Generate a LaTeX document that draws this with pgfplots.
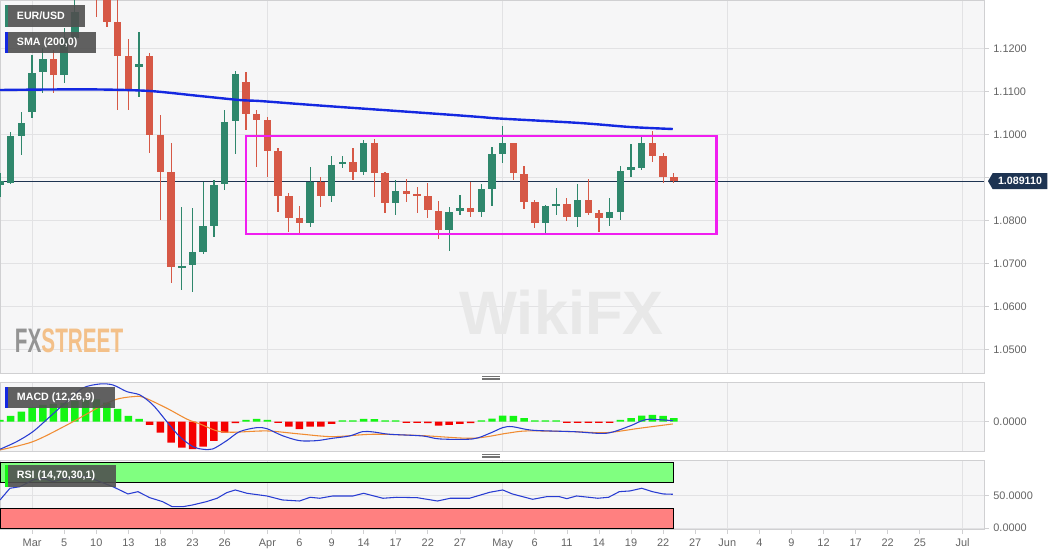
\documentclass[border=0pt]{standalone}
\usepackage{fontspec}
\setmainfont{Liberation Sans}
\usepackage{graphicx}
\usepackage{pgfplots}
\usepackage{pgfplotstable}
\pgfplotsset{compat=1.18}

\definecolor{plotbg}{RGB}{246,246,247}
\definecolor{gridgray}{RGB}{226,226,228}
\definecolor{framegray}{RGB}{208,208,210}
\definecolor{cgreen}{RGB}{47,135,108}
\definecolor{cred}{RGB}{214,88,70}
\definecolor{smablue}{RGB}{20,40,225}
\definecolor{pricenavy}{RGB}{30,52,82}
\definecolor{boxmag}{RGB}{240,30,240}
\definecolor{hgreen}{RGB}{20,245,20}
\definecolor{hred}{RGB}{245,0,0}
\definecolor{macdblue}{RGB}{40,60,210}
\definecolor{sigorange}{RGB}{240,140,50}
\definecolor{rsigreen}{RGB}{128,255,128}
\definecolor{rsired}{RGB}{255,128,128}
\definecolor{ticktext}{RGB}{100,100,100}
\definecolor{legbox}{RGB}{80,80,80}

% daily candles, i = bar index
\pgfplotstableread{
i o h l c
0 1.08821 1.09100 1.08542 1.08914
1 1.08867 1.10053 1.08844 1.09960
2 1.09960 1.10518 1.09518 1.10263
3 1.10518 1.11844 1.10379 1.11425
4 1.11449 1.12007 1.10960 1.11751
6 1.11379 1.12472 1.11193 1.12239
7 1.12239 1.13356 1.12193 1.12844
8 1.13850 1.14960 1.13300 1.14500
13 1.11565 1.12379 1.10867 1.11635
17 1.06914 1.08309 1.06379 1.06937
18 1.06960 1.08286 1.06333 1.07263
19 1.07263 1.08891 1.07216 1.07867
20 1.07867 1.08937 1.07612 1.08821
21 1.08844 1.10565 1.08704 1.10286
22 1.10309 1.11472 1.09542 1.11402
29 1.07937 1.09239 1.07844 1.08891
31 1.08565 1.09495 1.08425 1.09286
32 1.09309 1.09495 1.09216 1.09356
34 1.09123 1.09867 1.09053 1.09797
37 1.08402 1.08937 1.08123 1.08681
42 1.07774 1.08309 1.07286 1.08193
43 1.08216 1.08588 1.08123 1.08286
45 1.08193 1.08844 1.08077 1.08728
46 1.08728 1.09704 1.08332 1.09542
47 1.09542 1.10193 1.09332 1.09797
51 1.07937 1.08356 1.07705 1.08332
52 1.08332 1.08751 1.08123 1.08379
54 1.08077 1.08844 1.07844 1.08472
57 1.08053 1.08518 1.07867 1.08193
58 1.08193 1.09263 1.08007 1.09146
59 1.09170 1.09774 1.09007 1.09239
60 1.09216 1.09983 1.09170 1.09797
}\upc

\pgfplotstableread{
i o h l c
5 1.11751 1.11960 1.10960 1.11379
9 1.14500 1.14600 1.12735 1.13350
10 1.13216 1.13309 1.12502 1.12618
11 1.12611 1.13170 1.10565 1.11821
12 1.11821 1.12216 1.10565 1.11030
14 1.11821 1.11890 1.09565 1.09983
15 1.09983 1.10449 1.08007 1.09123
16 1.09123 1.09797 1.06542 1.06914
23 1.11216 1.11449 1.10100 1.10472
24 1.10472 1.10565 1.09239 1.10332
25 1.10332 1.10402 1.09007 1.09611
26 1.09611 1.09681 1.08193 1.08565
27 1.08565 1.08635 1.07728 1.08053
28 1.08053 1.08332 1.07705 1.07937
30 1.08891 1.09007 1.08309 1.08565
33 1.09356 1.09681 1.08937 1.09123
35 1.09797 1.09890 1.08542 1.09100
36 1.09100 1.09123 1.08170 1.08402
38 1.08681 1.08960 1.08425 1.08611
39 1.08611 1.08774 1.08170 1.08565
40 1.08565 1.08867 1.08053 1.08239
41 1.08216 1.08449 1.07565 1.07774
44 1.08286 1.08891 1.08077 1.08193
48 1.09797 1.09797 1.08937 1.09100
49 1.09077 1.09263 1.08263 1.08425
50 1.08425 1.08472 1.07821 1.07937
53 1.08379 1.08518 1.07983 1.08077
55 1.08472 1.08960 1.08123 1.08170
56 1.08170 1.08239 1.07728 1.08053
61 1.09797 1.10077 1.09356 1.09495
62 1.09495 1.09565 1.08867 1.09007
63 1.09007 1.09100 1.08867 1.08914
}\downc

\pgfplotsset{
  panel/.style={
    scale only axis, width=738pt, xmin=0, xmax=92,
    axis background/.style={fill=plotbg},
    axis line style={draw=framegray},
    grid style={draw=gridgray, line width=0.5pt},
    xmajorgrids, ymajorgrids,
    xtick={3,25,47,68,90},
    ytick pos=right, yticklabel pos=right,
    tick align=outside, major tick length=3.5pt,
    tick style={draw=framegray, line width=0.5pt},
    tick label style={font=\fontsize{8.2}{9}\selectfont, text=ticktext},
  },
  wicks/.style={draw=none, mark=none, forget plot,
    error bars/.cd, y dir=both, y explicit, error mark=none,
    error bar style={draw=#1, line width=0.9pt}},
  bodies/.style={draw=none, mark=none, forget plot,
    error bars/.cd, y dir=both, y explicit, error mark=none,
    error bar style={draw=#1, line width=5.6pt}},
}

\begin{document}
\begin{tikzpicture}
\useasboundingbox (0,0) rectangle (795pt,-416.25pt);

% ---------- price panel ----------
\begin{axis}[panel, at={(0pt,0pt)}, anchor=north west, height=280pt,
  ymin=1.04442, ymax=1.13123,
  ytick={1.05,1.06,1.07,1.08,1.09,1.10,1.11,1.12},
  yticklabels={1.0500,1.0600,1.0700,1.0800,,1.1000,1.1100,1.1200},
  xticklabels={}, xtick style={draw=none}]

\node[text=black!9, font=\bfseries\fontsize{46}{46}\selectfont] at (axis cs:52.5,1.0585) {WikiFX};

\addplot[pricenavy, line width=0.8pt, forget plot] coordinates {(0,1.08911) (92,1.08911)};

\addplot[wicks=cgreen] table[x=i, y expr={(\thisrow{h}+\thisrow{l})/2},
  y error expr={(\thisrow{h}-\thisrow{l})/2}] {\upc};
\addplot[bodies=cgreen] table[x=i, y expr={(\thisrow{o}+\thisrow{c})/2},
  y error expr={max(abs(\thisrow{c}-\thisrow{o})/2,0.00023)}] {\upc};
\addplot[wicks=cred] table[x=i, y expr={(\thisrow{h}+\thisrow{l})/2},
  y error expr={(\thisrow{h}-\thisrow{l})/2}] {\downc};
\addplot[bodies=cred] table[x=i, y expr={(\thisrow{o}+\thisrow{c})/2},
  y error expr={max(abs(\thisrow{c}-\thisrow{o})/2,0.00023)}] {\downc};

% SMA (200)
\addplot[smablue, line width=1.8pt, smooth] coordinates {
(0,1.11030) (4.67,1.11042) (9.35,1.11042) (14.0,1.11007) (18.7,1.10890)
(22.4,1.10797) (24.3,1.10774) (28.0,1.10704) (31.8,1.10635) (41.1,1.10472)
(44.9,1.10402) (46.7,1.10367) (54.2,1.10263) (58.9,1.10170) (62.9,1.10123)};

\draw[boxmag, line width=1.7pt] (axis cs:23,1.07681) rectangle (axis cs:67,1.09960);

\coordinate (pricept) at (axis cs:92,1.08911);
\end{axis}

% current price label
\fill[pricenavy] ([xshift=3pt]pricept) -- ++(3.5pt,6pt) -- ++(41pt,0) -- ++(0,-12pt) -- ++(-41pt,0) -- cycle;
\node[text=white, font=\bfseries\fontsize{8}{9}\selectfont] at ([xshift=27pt]pricept) {1.089110};

% ---------- MACD panel ----------
\begin{axis}[panel, at={(0pt,-287pt)}, anchor=north west, height=51.2pt,
  ymin=-29.3, ymax=39, ytick={0}, yticklabels={0.0000},
  xticklabels={}, xtick style={draw=none}]
\addplot[ybar, bar width=0.7, fill=hgreen, draw=none] coordinates {
(0,1.7) (1,5.7) (2,10) (3,14.4) (4,16.7) (5,17.7) (6,18.7) (7,20.7) (8,21.7)
(9,22.4) (10,19) (11,12.7) (12,5.7) (13,2.7) (23,1.7) (24,2.7) (25,1.7)
(32,1.2) (33,1.2) (34,2.7) (35,2.4) (36,1.2) (37,1.2) (45,1.2) (46,3) (47,6)
(48,5.7) (49,3.4) (50,1.2) (51,1.2) (52,1.2) (58,1.7) (59,3.4) (60,6)
(61,6.7) (62,5.7) (63,3.4)};
\addplot[ybar, bar width=0.7, fill=hred, draw=none] coordinates {
(14,-3.3) (15,-11) (16,-21) (17,-26) (18,-27.6) (19,-25) (20,-19.3) (21,-11)
(22,-1.6) (26,-1.3) (27,-5) (28,-7.6) (29,-5) (30,-5) (31,-2.3) (38,-1.2)
(39,-1.2) (40,-1.6) (41,-4) (42,-3.3) (43,-2.3) (44,-1.6) (53,-1.2) (54,-1.2)
(55,-1.2) (56,-1.2) (57,-1.2)};
% signal
\addplot[sigorange, line width=0.8pt, smooth] coordinates {
(0,-28.3) (3.08,-20) (6.26,-3.3) (9.35,15) (10.9,22.4) (12.4,25) (13.4,24.4)
(15.6,13.4) (17.5,2.4) (18.7,-2.3) (20.3,-9.3) (21.8,-10.6) (24.95,-9.3)
(28.0,-12.3) (31.1,-15) (34.9,-12.6) (39.5,-14) (44.2,-16.6) (47.4,-11.6)
(49.3,-9.3) (53.6,-10) (56.7,-11) (59.8,-6.6) (62.9,-2.3)};
% MACD
\addplot[macdblue, line width=0.8pt, smooth] coordinates {
(0,-27.6) (1.56,-20) (3.08,-10) (4.67,5) (6.23,20) (7.76,33.7) (9.35,37.7)
(10.56,36.7) (11.87,30) (13.08,26.7) (14.3,16.7) (15.6,0) (16.8,-15)
(18.04,-25) (18.97,-27.6) (19.9,-27.3) (21.2,-19) (22.4,-10) (24.0,-6)
(24.95,-7) (26.4,-14) (28.0,-19) (29.6,-19) (31.1,-16.6) (32.7,-14.3)
(33.9,-10) (34.9,-10.3) (36.4,-12.6) (39.5,-14.3) (41.1,-17.3) (44.2,-17.3)
(45.8,-11.6) (47.0,-6) (47.9,-5) (49.8,-8.6) (53.6,-10) (56.7,-11.6)
(58.9,-4.3) (59.8,0) (60.7,2.4) (62.9,1)};
\end{axis}

% ---------- RSI panel ----------
\begin{axis}[panel, at={(0pt,-345pt)}, anchor=north west, height=52.1pt,
  ymin=-2.3, ymax=104.1, ytick={0,50}, yticklabels={0.0000,50.0000},
  xticklabels={Mar,Apr,May,Jun,Jul}, xtick pos=left,
  extra x ticks={6,9,12,15,18,21,28,31,34,37,40,43,50,53,56,59,62,65,71,74,77,80,83,86},
  extra x tick labels={5,10,13,18,23,26,6,9,14,17,22,27,6,11,14,19,22,27,4,9,12,17,22,25},
  extra x tick style={grid=none}]
\draw[black, line width=0.6pt, fill=rsigreen] (axis cs:0,70) rectangle (axis cs:62.95,100);
\draw[black, line width=0.6pt, fill=rsired] (axis cs:0,0) rectangle (axis cs:62.95,30);
\addplot[macdblue, line width=0.8pt] coordinates {
(0,42.9) (0.93,60.8) (1.87,63.2) (3.08,73.5) (4.02,76.1) (4.95,70.9)
(6.26,76.1) (8.13,78.6) (9.35,70.9) (10.56,63.2) (11.96,52.1) (12.9,55.6)
(14.0,46.4) (15.2,40.3) (16.1,32.6) (17.1,32.6) (18.0,35.2) (19.3,40.3)
(20.3,45.5) (21.2,54.1) (22.0,58.2) (23.1,53.1) (24.95,49.0) (26.4,42.9)
(28.0,41.3) (29.0,47.0) (29.9,45.5) (31.1,49.0) (33.0,49.0) (34.0,53.1)
(35.8,45.5) (37.1,47.0) (39.0,46.4) (40.9,41.3) (42.1,45.5) (43.9,45.5)
(45.8,54.7) (47.0,58.2) (47.9,52.1) (49.8,43.9) (51.1,47.9) (52.3,47.9)
(53.0,44.9) (53.9,49.0) (55.9,45.5) (56.9,47.0) (57.9,55.6) (58.9,56.7)
(60.0,60.8) (61.0,55.6) (62.0,52.1) (62.9,51.6)};
\end{axis}

% FXSTREET logo
\node[anchor=west, inner sep=0pt] at (11pt,-255.5pt)
  {\scalebox{0.61}[1]{\fontsize{25.5}{25.5}\selectfont\bfseries
   \textcolor{black!42}{FX}\textcolor[RGB]{243,192,137}{STREET}}};

% panel drag handles
\foreach \yy in {282.4,283.5,284.6,340.9,342,343.1}
  \draw[black!55, line width=0.4pt] (361.5pt,-\yy pt) -- (375pt,-\yy pt);

% legend boxes
\fill[legbox, opacity=0.9] (3.75pt,-3.75pt) rectangle (63.75pt,-20pt);
\fill[cgreen] (3.75pt,-3.75pt) rectangle (6.2pt,-20pt);
\node[anchor=west, text=white, font=\bfseries\fontsize{8}{9}\selectfont, inner sep=0pt] at (12.5pt,-11.9pt) {EUR/USD};
\fill[legbox, opacity=0.9] (3.75pt,-24.2pt) rectangle (72pt,-40pt);
\fill[smablue] (3.75pt,-24.2pt) rectangle (6.2pt,-40pt);
\node[anchor=west, text=white, font=\bfseries\fontsize{8}{9}\selectfont, inner sep=0pt] at (12.5pt,-32.1pt) {SMA (200,0)};
\fill[legbox, opacity=0.9] (3.75pt,-290pt) rectangle (86.25pt,-306.2pt);
\fill[smablue] (3.75pt,-290pt) rectangle (6.2pt,-306.2pt);
\node[anchor=west, text=white, font=\bfseries\fontsize{8}{9}\selectfont, inner sep=0pt] at (12.5pt,-298.1pt) {MACD (12,26,9)};
\fill[legbox, opacity=0.9] (3.75pt,-348.75pt) rectangle (87pt,-365pt);
\fill[hgreen] (3.75pt,-348.75pt) rectangle (6.2pt,-365pt);
\node[anchor=west, text=white, font=\bfseries\fontsize{8}{9}\selectfont, inner sep=0pt] at (12.5pt,-356.9pt) {RSI (14,70,30,1)};
\end{tikzpicture}
\end{document}
